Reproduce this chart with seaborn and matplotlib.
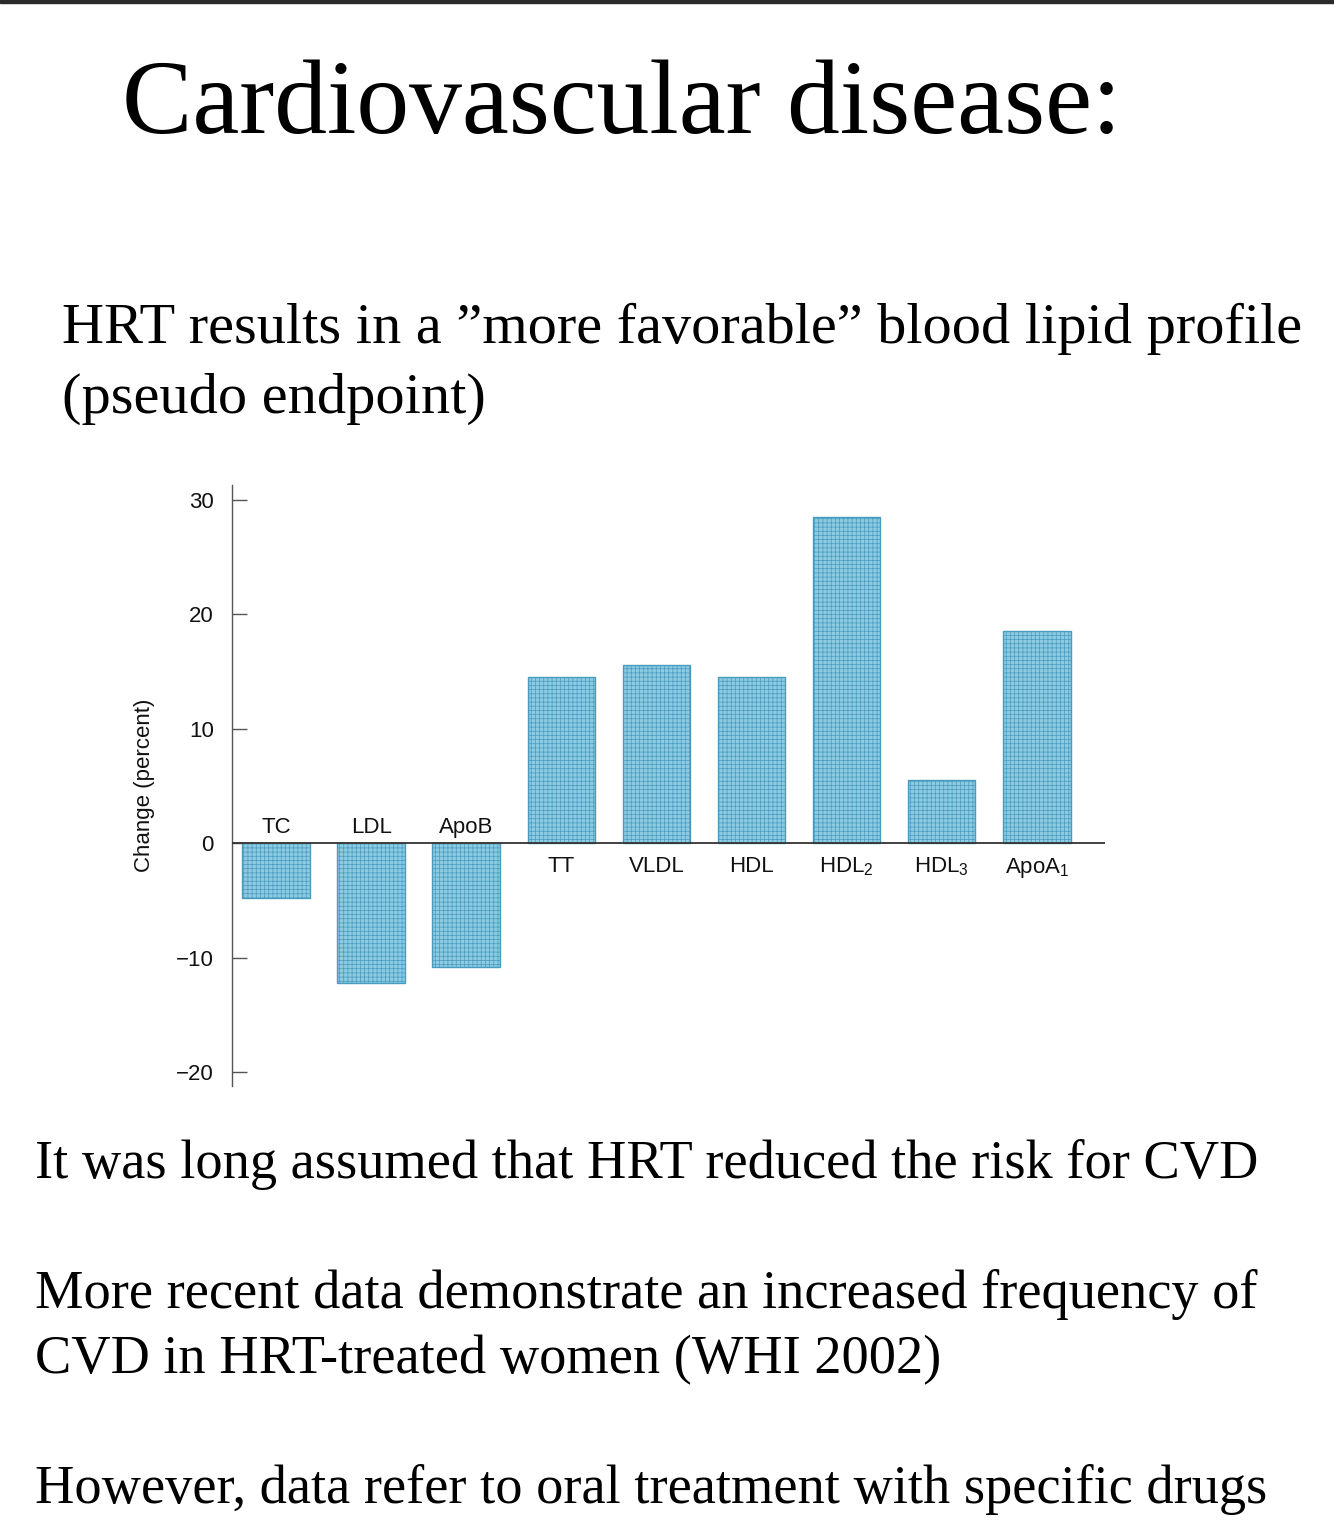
import matplotlib
matplotlib.use("Agg")
import matplotlib.pyplot as plt
import seaborn as sns
import pandas as pd
from matplotlib.patches import Rectangle

# values (percent change)
lipids = ["TC", "LDL", "ApoB", "TT", "VLDL", "HDL", "HDL$_2$", "HDL$_3$", "ApoA$_1$"]
change = [-4.8, -12.2, -10.8, 14.5, 15.6, 14.5, 28.5, 5.5, 18.5]
yticks = [-20, -10, 0, 10, 20, 30]

title = "Cardiovascular disease:"
sub_lines = ["HRT results in a \u201dmore favorable\u201d blood lipid profile",
             "(pseudo endpoint)"]
notes = ["It was long assumed that HRT reduced the risk for CVD",
         "More recent data demonstrate an increased frequency of",
         "CVD in HRT-treated women (WHI 2002)",
         "However, data refer to oral treatment with specific drugs"]

sns.set_theme(style="white")
plt.rcParams["font.family"] = ["Liberation Sans", "DejaVu Sans"]
plt.rcParams["mathtext.fontset"] = "custom"
plt.rcParams["mathtext.rm"] = "Liberation Sans"
plt.rcParams["mathtext.it"] = "Liberation Sans"
plt.rcParams["hatch.linewidth"] = 0.5
plt.rcParams["text.color"] = "black"

df = pd.DataFrame({"lipid": lipids, "change": change})

fig = plt.figure(figsize=(13.34, 15.36), dpi=100)
fig.patch.set_facecolor("white")

# dark strip at the very top of the slide
fig.add_artist(Rectangle((0, 1 - 3 / 1536), 1, 3 / 1536, transform=fig.transFigure,
                         color="#2a2a2a", zorder=5))

serif = ["Liberation Serif", "DejaVu Serif"]
fig.text(122 / 1334, 1 - 133 / 1536, title, family=serif, fontsize=76,
         ha="left", va="baseline", color="black")
fig.text(62 / 1334, 1 - 343 / 1536, sub_lines[0], family=serif, fontsize=42,
         ha="left", va="baseline", color="black")
fig.text(62 / 1334, 1 - 413 / 1536, sub_lines[1], family=serif, fontsize=42,
         ha="left", va="baseline", color="black")
for txt, yb in zip(notes, [1178, 1308, 1373, 1503]):
    fig.text(35 / 1334, 1 - yb / 1536, txt, family=serif, fontsize=39.2,
             ha="left", va="baseline", color="black")

# chart
ax = fig.add_axes([232 / 1334, 1 - 1085.7 / 1536, 873 / 1334, 600.7 / 1536])
sns.barplot(data=df, x="lipid", y="change", color="#8ccbe1", saturation=1,
            width=0.71, edgecolor="#4a9bc0", linewidth=1.0, hatch="++++", ax=ax)

ax.set_xlim(-0.463, 8.717)
ax.set_ylim(-21.2, 31.3)
ax.axhline(0, color="#333333", lw=1.3, zorder=3)

for s in ["top", "right", "bottom"]:
    ax.spines[s].set_visible(False)
ax.spines["left"].set_color("#555555")
ax.spines["left"].set_linewidth(1.0)

ax.set_xticks([])
ax.set_xlabel("")
ax.set_yticks(yticks)
ax.set_yticklabels([f"{t:d}".replace("-", "\u2212") for t in yticks])
ax.tick_params(axis="y", direction="in", length=11, width=1, color="#555555",
               pad=13, labelsize=16, labelcolor="#111111", left=True)

ax.set_ylabel("Change (percent)", fontsize=16, color="#111111")
ax.yaxis.set_label_coords(-0.088, 0.5)

# category names: above the zero line for decreases, below for increases
for i, (name, v) in enumerate(zip(lipids, change)):
    if v < 0:
        ax.annotate(name, xy=(i, 0), xytext=(0, 4), textcoords="offset points",
                    ha="center", va="bottom", fontsize=16, color="#111111")
    else:
        ax.annotate(name, xy=(i, 0), xytext=(0, -9), textcoords="offset points",
                    ha="center", va="top", fontsize=16, color="#111111")

fig.savefig("out.png", dpi=100, facecolor="white")
